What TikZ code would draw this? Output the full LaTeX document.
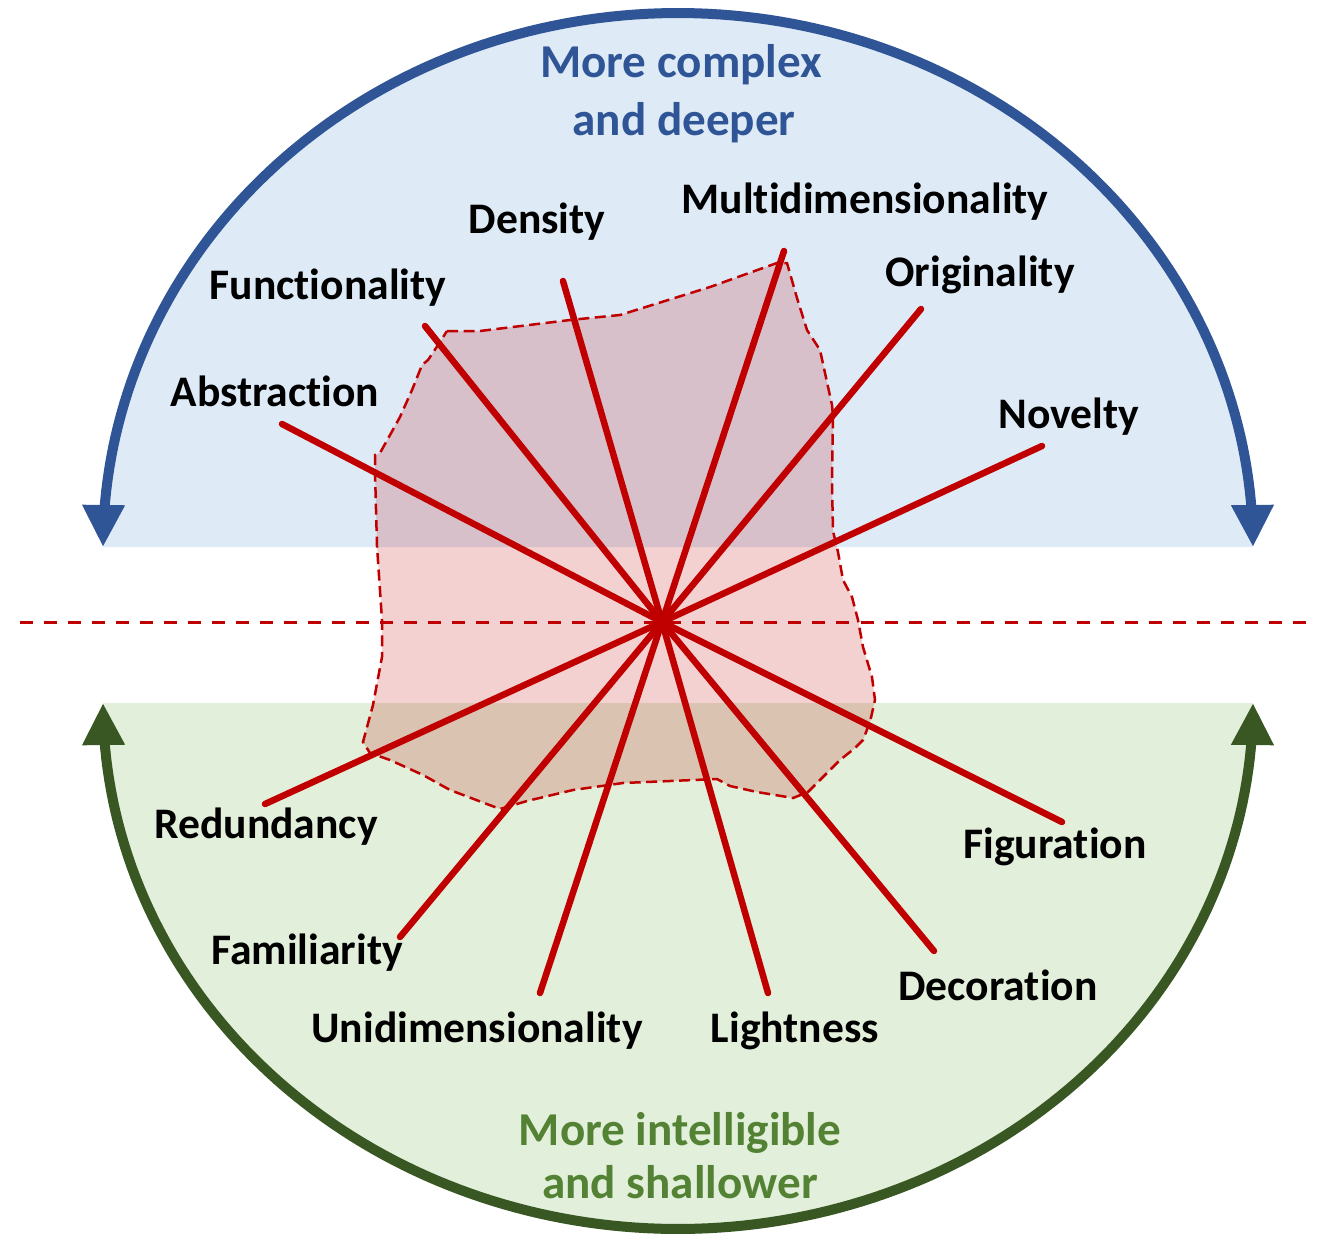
\documentclass[tikz,border=0pt]{standalone}
\usepackage{fontspec}
\setmainfont[Ligatures={NoCommon}]{Carlito}
\usetikzlibrary{arrows.meta}
\definecolor{arcblue}{RGB}{47,85,151}
\definecolor{fillblue}{RGB}{222,235,247}
\definecolor{arcgreen}{RGB}{56,87,35}
\definecolor{fillgreen}{RGB}{226,239,218}
\definecolor{textgreen}{RGB}{84,130,53}
\definecolor{spokered}{RGB}{192,0,0}
\begin{document}
\begin{tikzpicture}[x=0.01cm,y=-0.01cm,
  spoke/.style={draw=spokered,line width=0.065cm,line cap=round},
  lbl/.style={font=\fontsize{12.4}{14}\selectfont\bfseries,anchor=base,inner sep=0pt},
  ttl/.style={font=\fontsize{13.4}{16}\selectfont\bfseries,anchor=base,inner sep=0pt},
  sweep/.style={line width=0.1cm,{Triangle[width=0.4cm,length=0.42cm]}-{Triangle[width=0.4cm,length=0.42cm]}},
  zone/.style={draw=spokered,line width=0.025cm,dash pattern=on 0.11cm off 0.055cm,fill=spokered,fill opacity=0.18},
  divider/.style={draw=spokered,line width=0.03cm,dash pattern=on 0.13cm off 0.11cm}]
\useasboundingbox (0,0) rectangle (1320,1242);

% upper and lower half-ellipses
\fill[fillblue] plot[domain=180:0,samples=150] ({678+575*cos(\x)},{547-534*sin(\x)}) -- cycle;
\fill[fillgreen] plot[domain=180:360,samples=150] ({678+575*cos(\x)},{703-526*sin(\x)}) -- cycle;

% irregular dashed region
\path[zone] (447,331) -- (480,331) -- (570,320) -- (620,315) -- (710,287) -- (777,263) -- (787,263)
  -- (797,298) -- (807,330) -- (820,350) -- (832,405) -- (833,416) -- (832,483) -- (833,531)
  -- (838,552) -- (843,580) -- (852,597) -- (858,620) -- (863,647) -- (872,677) -- (875,700)
  -- (870,722) -- (863,740) -- (855,748) -- (840,760) -- (823,777) -- (808,792) -- (793,798)
  -- (757,792) -- (730,786) -- (717,779) -- (623,783) -- (573,790) -- (527,801) -- (500,809)
  -- (450,790) -- (423,775) -- (390,760) -- (370,753) -- (363,742) -- (373,705) -- (382,657)
  -- (382,620) -- (377,546) -- (375,472) -- (375,455) -- (380,453) -- (400,417) -- (412,390)
  -- (422,365) -- (428,360) -- (438,345) -- cycle;

% dividing line
\coordinate (dl) at (20,622);
\coordinate (dr) at (1312,622);
\draw[divider] (dl) -- (dr);

% spokes
\coordinate (c) at (662,622);
\coordinate (eAbs) at (282,424);
\coordinate (eFun) at (425,326);
\coordinate (eDen) at (563,281);
\coordinate (eMul) at (784,251);
\coordinate (eOri) at (921,309);
\coordinate (eNov) at (1042,446);
\coordinate (eRed) at (265,804);
\coordinate (eFam) at (400,937);
\coordinate (eUni) at (540,993);
\coordinate (eLig) at (768,993);
\coordinate (eDec) at (934,951);
\coordinate (eFig) at (1062,822);
\foreach \e in {eAbs,eFun,eDen,eMul,eOri,eNov,eRed,eFam,eUni,eLig,eDec,eFig}
  \draw[spoke] (c) -- (\e);

% arcs with arrowheads
\draw[sweep,draw=arcblue,fill=none,arcblue] plot[domain=180:0,samples=150] ({678+575*cos(\x)},{547-534*sin(\x)});
\draw[sweep,draw=arcgreen,fill=none,arcgreen] plot[domain=180:360,samples=150] ({678+575*cos(\x)},{703-526*sin(\x)});

% titles
\node[ttl,text=arcblue] (t1) at (681,77) {More complex};
\node[ttl,text=arcblue] (t2) at (684,135) {and deeper};
\node[ttl,text=textgreen] (t3) at (680,1145) {More intelligible};
\node[ttl,text=textgreen] (t4) at (680,1198) {and shallower};

% labels
\node[lbl] (lMul) at (865,213) {Multidimensionality};
\node[lbl] (lDen) at (537,233) {Density};
\node[lbl] (lFun) at (328,299) {Functionality};
\node[lbl] (lOri) at (980,286) {Originality};
\node[lbl] (lAbs) at (275,406) {Abstraction};
\node[lbl] (lNov) at (1069,428) {Novelty};
\node[lbl] (lRed) at (266,838) {Redundancy};
\node[lbl] (lFig) at (1055,858) {Figuration};
\node[lbl] (lFam) at (307,964) {Familiarity};
\node[lbl] (lDec) at (998,1000) {Decoration};
\node[lbl] (lUni) at (477,1042) {Unidimensionality};
\node[lbl] (lLig) at (795,1042) {Lightness};
\end{tikzpicture}
\end{document}
